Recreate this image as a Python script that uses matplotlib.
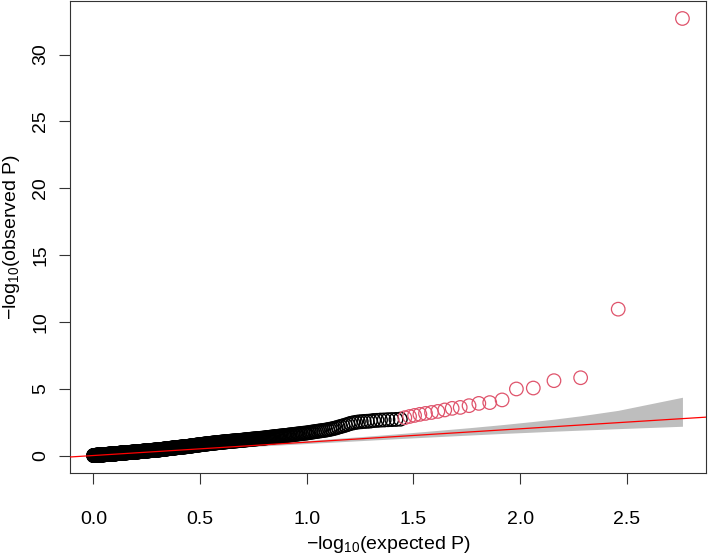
import numpy as np
import matplotlib
matplotlib.use("Agg")
import matplotlib.pyplot as plt

plt.rcParams["font.family"] = ["Liberation Sans", "DejaVu Sans"]
plt.rcParams["mathtext.fontset"] = "custom"
plt.rcParams["mathtext.rm"] = "Liberation Sans"
plt.rcParams["mathtext.it"] = "Liberation Sans:italic"

# -log10(observed P), sorted, strongest first
# top hits (drawn in red)
obs_top = [32.7, 10.95, 5.82, 5.6, 5.05, 4.98, 4.16, 3.96, 3.9, 3.73,
           3.6, 3.53, 3.41, 3.3, 3.22, 3.15, 3.08, 3.0, 2.92, 2.83]

# next ranks, one value each
obs_mid = [2.72, 2.70, 2.69, 2.68, 2.66, 2.65, 2.63, 2.62,
           2.58, 2.56, 2.55, 2.53, 2.51, 2.48, 2.44, 2.40,
           2.33, 2.27, 2.22, 2.17, 2.12, 2.07, 2.03, 1.99, 1.96,
           1.93, 1.90, 1.88, 1.86, 1.84, 1.82, 1.80, 1.78, 1.76, 1.74, 1.72, 1.70,
           1.68, 1.67, 1.66, 1.64, 1.63, 1.62, 1.60, 1.59, 1.58, 1.56, 1.55, 1.54, 1.53, 1.51, 1.50,
           1.49, 1.48, 1.47, 1.46, 1.45, 1.44, 1.43, 1.42, 1.41, 1.40,
           1.39, 1.38, 1.37, 1.36, 1.35, 1.34, 1.33, 1.32, 1.31]

# the bulk: value (rounded to 0.01) and number of tests at that value
obs_bulk_levels = [
    1.30, 1.29, 1.28, 1.27, 1.26, 1.25, 1.24, 1.23, 1.22, 1.21,
    1.20, 1.19, 1.18, 1.17, 1.16, 1.15, 1.14, 1.13, 1.12, 1.11,
    1.10, 1.09, 1.08, 1.07, 1.06, 1.05, 1.04, 1.03, 1.02, 1.01,
    1.00, 0.99, 0.98, 0.97, 0.96, 0.95, 0.94, 0.93, 0.92, 0.91,
    0.90, 0.89, 0.88, 0.87, 0.86, 0.85, 0.84, 0.83, 0.82, 0.81,
    0.80, 0.79, 0.78, 0.77, 0.76, 0.75, 0.74, 0.73, 0.72, 0.71,
    0.70, 0.69, 0.68, 0.67, 0.66, 0.65, 0.64, 0.63, 0.62, 0.61,
    0.60, 0.59, 0.58, 0.57, 0.56, 0.55, 0.54, 0.53, 0.52, 0.51,
    0.50, 0.49, 0.48, 0.47, 0.46, 0.45, 0.44, 0.43, 0.42, 0.41,
    0.40, 0.39, 0.38, 0.37, 0.36, 0.35, 0.34, 0.33, 0.32, 0.31,
    0.30, 0.29, 0.28, 0.27, 0.26, 0.25, 0.24, 0.23, 0.22, 0.21,
    0.20, 0.19, 0.18, 0.17, 0.16, 0.15, 0.14, 0.13, 0.12, 0.11,
    0.10, 0.09, 0.08, 0.07, 0.06, 0.05, 0.04, 0.03, 0.02, 0.01,
    0.00]
obs_bulk_counts = [
    1, 2, 1, 2, 1, 2, 1, 2, 1, 2,
    1, 2, 1, 2, 1, 1, 2, 2, 2, 2,
    2, 2, 2, 2, 2, 2, 2, 2, 2, 2,
    2, 2, 2, 2, 2, 2, 2, 2, 2, 2,
    2, 2, 2, 2, 2, 2, 2, 2, 2, 2,
    2, 2, 2, 2, 2, 2, 2, 2, 2, 2,
    2, 2, 2, 3, 3, 3, 3, 3, 3, 3,
    3, 3, 3, 3, 3, 3, 3, 3, 3, 3,
    3, 3, 3, 3, 3, 3, 3, 4, 4, 5,
    5, 5, 5, 5, 5, 5, 5, 5, 5, 5,
    5, 5, 5, 5, 7, 7, 7, 7, 7, 7,
    7, 7, 7, 7, 6, 6, 6, 6, 9, 9,
    9, 9, 9, 9, 9, 9, 9, 9, 9, 9,
    10]

# 95% band around the null, read at a few ranks
band_rank = [1, 2, 3, 4, 5, 7, 10, 15, 20, 30, 50, 100, 200, 400, 575]
band_lo = [2.19, 2.01, 1.90, 1.82, 1.75, 1.65, 1.53, 1.39, 1.29, 1.14, 0.95, 0.69, 0.41, 0.14, 0.00]
band_hi = [4.36, 3.38, 2.97, 2.72, 2.55, 2.31, 2.08, 1.84, 1.67, 1.45, 1.19, 0.85, 0.51, 0.18, 0.003]

observed = np.concatenate([obs_top, obs_mid, np.repeat(obs_bulk_levels, obs_bulk_counts)])
n_tests = len(observed)
expected = -np.log10(np.arange(1, n_tests + 1) / (n_tests + 1))
band_x = -np.log10(np.array(band_rank) / (n_tests + 1))
n_top = len(obs_top)

fig = plt.figure(figsize=(7.09, 5.56), dpi=100)
ax = fig.add_axes([70 / 709, 83 / 556, 636 / 709, 472 / 556])

ax.fill_between(band_x, band_lo, band_hi, color="#BEBEBE", lw=0, zorder=1)
ax.scatter(expected[n_top:], observed[n_top:], s=95, facecolors="none",
           edgecolors="black", linewidths=1.0, zorder=2)
ax.scatter(expected[:n_top], observed[:n_top], s=95, facecolors="none",
           edgecolors="#DF536B", linewidths=0.9, zorder=2)
ax.axline((0, 0), slope=1, color="red", lw=0.9, zorder=3)

# R-style 4% padding
xr = expected.max() - expected.min()
yr = observed.max() - observed.min()
ax.set_xlim(expected.min() - 0.04 * xr, expected.max() + 0.04 * xr)
ax.set_ylim(observed.min() - 0.04 * yr, observed.max() + 0.04 * yr)

ax.set_xticks([0.0, 0.5, 1.0, 1.5, 2.0, 2.5])
ax.set_xticklabels(["0.0", "0.5", "1.0", "1.5", "2.0", "2.5"])
ax.set_yticks([0, 5, 10, 15, 20, 25, 30])
ax.tick_params(axis="both", direction="out", length=8, width=0.8,
               labelsize=14, color="#333333")
ax.tick_params(axis="x", pad=19)
ax.tick_params(axis="y", pad=7, labelrotation=90)
for lbl in ax.get_yticklabels():
    lbl.set_va("center")
for sp in ax.spines.values():
    sp.set_linewidth(0.8)
    sp.set_color("#333333")

ax.set_xlabel(r"$\mathregular{-log_{10}}$(expected P)", fontsize=14, labelpad=5)
ax.set_ylabel(r"$\mathregular{-log_{10}}$(observed P)", fontsize=14, labelpad=7)

fig.savefig("out.png", dpi=100)
